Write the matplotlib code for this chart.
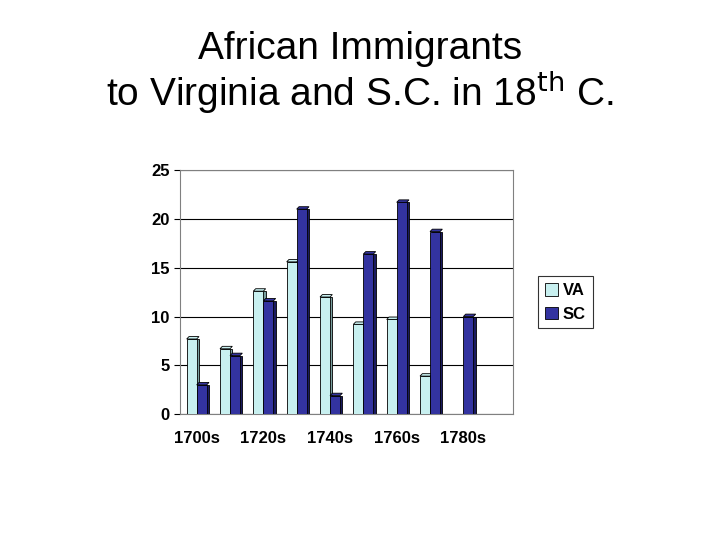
import matplotlib.pyplot as plt
import numpy as np

plt.rcParams['font.family'] = ['Liberation Sans', 'DejaVu Sans']

decades = ['1700s', '1710s', '1720s', '1730s', '1740s', '1750s', '1760s', '1770s', '1780s', '1790s']
tick_labels = ['1700s', '', '1720s', '', '1740s', '', '1760s', '', '1780s', '']
va = [7.7, 6.7, 12.6, 15.6, 12.0, 9.2, 9.7, 3.9, 0, 0]
sc = [3.0, 6.0, 11.6, 21.0, 1.9, 16.4, 21.7, 18.7, 10.0, 0]

fig = plt.figure(figsize=(7.2, 5.4), dpi=100)
ax = fig.add_axes([0.25, 0.233, 0.463, 0.452])

x = np.arange(len(decades))
w = 0.3
dx, dy = 0.07, 0.25  # fake 3d depth

for vals, off, face, side in [(va, -w / 2, '#c8f0f0', '#7aa0a0'), (sc, w / 2, '#3333a0', '#1a1a60')]:
    # side/back shadow for 3d look
    ax.bar(x + off + dx, vals, w, bottom=0, color=side, edgecolor='black', linewidth=0.6, zorder=2)
    ax.bar(x + off, vals, w, color=face, edgecolor='black', linewidth=0.6, zorder=3)
    for xi, v in zip(x, vals):
        if v > 0:
            ax.fill([xi + off - w / 2, xi + off + w / 2, xi + off + w / 2 + dx, xi + off - w / 2 + dx],
                    [v, v, v + dy, v + dy], color=face, ec='black', lw=0.6, zorder=3)

ax.set_xlim(-0.5, len(decades) - 0.5)
ax.set_ylim(0, 25)
ax.set_yticks([0, 5, 10, 15, 20, 25])
ax.set_xticks(x)
ax.set_xticklabels(tick_labels)
ax.yaxis.grid(True, color='black', linewidth=0.8)
ax.set_axisbelow(True)
for s in ax.spines.values():
    s.set_color('#808080')
ax.tick_params(axis='x', length=0, labelsize=12, pad=12)
ax.tick_params(axis='y', length=4, labelsize=12)
for lab in ax.get_xticklabels() + ax.get_yticklabels():
    lab.set_fontweight('bold')

h1 = plt.Rectangle((0, 0), 1, 1, fc='#c8f0f0', ec='black', lw=0.6)
h2 = plt.Rectangle((0, 0), 1, 1, fc='#3333a0', ec='black', lw=0.6)
leg = fig.legend([h1, h2], ['VA', 'SC'], loc='center', bbox_to_anchor=(0.785, 0.44),
                 frameon=True, fancybox=False, prop={'weight': 'bold', 'size': 12},
                 handlelength=0.8, handleheight=0.8, handletextpad=0.3, borderpad=0.4)
leg.get_frame().set_edgecolor('black')
leg.get_frame().set_linewidth(0.8)

fig.text(0.5, 0.91, 'African Immigrants', ha='center', va='center', fontsize=28)
fig.text(0.5, 0.83, 'to Virginia and S.C. in 18$^{\\mathrm{th}}$ C.', ha='center', va='center', fontsize=28)

fig.savefig('out.png')
